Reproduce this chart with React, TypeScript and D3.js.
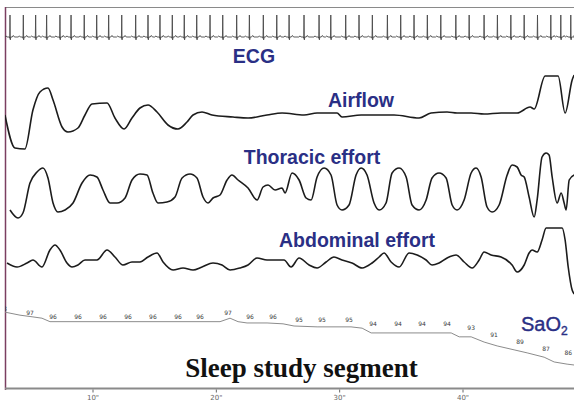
import React from "react";
import * as d3 from "d3";

const W = 574;
const H = 403;

// time axis ticks (seconds)
const timeTicks = [10, 20, 30, 40];

// ECG R-peak times (s)
const ecgBeats = [
  3.27, 4.35, 5.35, 6.24, 7.32, 8.22, 9.29, 10.3, 11.27, 12.33, 13.46, 14.46, 15.43, 16.43,
  17.4, 18.41, 19.49, 20.52, 21.65, 22.68, 23.81, 24.9, 25.9, 27.11, 28.33, 29.28, 30.49,
  31.57, 32.65, 33.87, 34.95, 36.03, 37.11, 38.2, 39.42, 40.5, 41.71, 42.79, 43.88, 44.96,
  46.04, 47.12, 47.93, 48.74,
];
// one PQRST complex: offset from R (s), amplitude (R = 1)
const ecgTemplate: [number, number][] = [
  [-0.42, 0], [-0.32, 0.05], [-0.24, 0], [-0.05, 0], [-0.025, -0.06], [0, 1],
  [0.025, -0.13], [0.06, 0], [0.18, 0], [0.27, 0.07], [0.36, 0],
];

// Airflow [t (s), amplitude]
const airflow: [number, number][] = [
  [2.86, 0], [3.67, -33], [4.48, -34], [5.13, 5], [5.7, 23], [6.35, 27], [6.76, 15],
  [7.49, -12], [7.97, -17], [8.78, -13], [9.35, 0], [9.92, 11], [11.14, 12], [11.78, -3],
  [12.52, -14], [13.16, -3], [13.81, 7], [14.46, 10], [15.19, 3], [16.08, -10], [16.89, -14],
  [17.62, -7], [18.11, 0], [18.84, 3], [19.65, 0], [21.35, -2], [22.57, -3], [24.11, 0],
  [25.33, 2], [27.11, 0], [28.17, 2], [29.79, 2], [30.19, -2], [31.74, 0], [33.03, 0],
  [34.41, 0], [36.44, -3], [37.41, 2], [38.71, 3], [39.52, 2], [40.66, 2], [41.71, 1],
  [43.09, 2], [44.39, 2], [45.44, 8], [45.77, 6], [46.66, 39], [47.71, 39], [48.28, 2],
  [48.85, 35], [49.01, 40],
];

// Thoracic effort [t (s), amplitude]
const thoracic: [number, number][] = [
  [3.27, -20], [3.92, -28], [4.32, -23], [4.89, 7], [5.46, 18], [5.94, 22], [6.35, 12],
  [6.76, -13], [7.16, -22], [7.73, -20], [8.38, -13], [9.11, 7], [9.76, 15], [10.32, 13],
  [10.81, 0], [11.38, -13], [11.95, -13], [12.6, -8], [13.16, 10], [13.81, 16], [14.38, 15],
  [14.86, -3], [15.27, -13], [16.0, -12], [16.65, -7], [17.22, 12], [17.87, 16], [18.43, 12],
  [18.92, -7], [19.33, -13], [19.73, -8], [20.3, -5], [20.87, 10], [21.27, 15], [21.76, 10],
  [22.57, 2], [23.3, -10], [23.79, 3], [24.19, 5], [24.76, 0], [25.33, 2], [25.57, -3],
  [26.14, 17], [26.71, 10], [27.28, -8], [27.68, -10], [28.17, 13], [28.74, 22], [29.3, 15],
  [29.79, -15], [30.19, -20], [30.76, -15], [31.33, 15], [31.74, 22], [32.22, 15],
  [32.79, -13], [33.2, -20], [33.76, -13], [34.25, 17], [34.82, 22], [35.39, 13],
  [35.87, -15], [36.44, -20], [37.01, -10], [37.49, 12], [38.06, 17], [38.63, 12],
  [39.12, -15], [39.52, -20], [40.09, -10], [40.66, 17], [41.06, 22], [41.47, 13],
  [41.95, -17], [42.36, -22], [42.93, -15], [43.58, 15], [43.98, 25], [44.39, 23],
  [44.71, 15], [44.96, 13], [45.36, -7], [45.77, -27], [46.01, -10], [46.41, 33],
  [46.74, 37], [46.98, 35], [47.23, 13], [47.63, -13], [47.96, -3], [48.2, -13],
  [48.36, -20], [48.61, 10], [49.01, 15],
];

// Abdominal effort [t (s), amplitude]
const abdominal: [number, number][] = [
  [3.03, -1], [3.84, -5], [4.65, -1], [5.13, 2], [5.86, -5], [6.51, 12], [6.92, 17],
  [7.32, 12], [7.89, -1], [8.3, -5], [8.78, -3], [9.35, 2], [10.32, 2], [11.14, 12],
  [11.78, 5], [12.43, -3], [13.16, 0], [13.81, 0], [14.46, 5], [15.19, 9], [15.68, 0],
  [16.49, -8], [17.3, -6], [18.11, -8], [18.84, -5], [19.73, -1], [20.46, -3], [21.11, -8],
  [21.92, -6], [22.57, -3], [23.3, 4], [24.11, 2], [24.92, 2], [25.49, 2], [26.06, -5],
  [26.71, 4], [27.52, -3], [28.17, -6], [28.9, 0], [29.54, 5], [30.19, 2], [31.0, -1],
  [31.82, -6], [32.63, -1], [33.2, 5], [33.6, 9], [34.17, 0], [34.82, -5], [35.63, 9],
  [36.28, 7], [37.01, 2], [37.49, -3], [38.06, -1], [38.71, 4], [39.44, 7], [40.09, 0],
  [40.74, -6], [41.31, 2], [41.71, 10], [42.28, 7], [43.09, 5], [43.98, -3], [44.39, -10],
  [44.96, -3], [45.36, 9], [45.6, 12], [46.01, 10], [46.41, 22], [46.74, 34], [48.04, 34],
  [48.28, 22], [48.53, -5], [48.85, -28], [49.01, -32],
];

// SaO2 trend [t (s), %]
const sao2Trend: [number, number][] = [
  [2.86, 98.2], [4.08, 97.5], [5.13, 97.1], [5.86, 96.8], [6.51, 96.0], [20.3, 96.0],
  [21.11, 96.8], [21.76, 96.0], [22.49, 95.7], [24.11, 95.7], [25.41, 95.5], [26.3, 95.0],
  [28.17, 94.8], [30.92, 94.8], [31.82, 94.5], [32.55, 93.4], [39.04, 93.4], [39.69, 92.5],
  [40.66, 92.5], [41.71, 91.3], [42.77, 90.4], [44.14, 89.5], [45.2, 88.8], [46.58, 87.8],
  [47.39, 86.7], [48.44, 86.2], [49.01, 86.0],
];

// SaO2 readings printed along the trend [t (s), %]
const sao2Readings: [number, number][] = [
  [2.7, 98], [4.89, 97], [6.76, 96], [8.78, 96], [10.81, 96], [12.84, 96], [14.86, 96],
  [16.89, 96], [18.68, 96], [20.95, 97], [22.73, 96], [24.6, 96], [26.71, 95], [28.57, 95],
  [30.76, 95], [32.71, 94], [34.74, 94], [36.68, 94], [38.71, 94], [40.66, 93], [42.52, 91],
  [44.63, 89], [46.74, 87], [48.53, 86],
];

const NAVY = "#2a2f85";

export default function App() {
  const x = d3.scaleLinear().domain([10, 40]).range([93, 463]);
  const yEcg = d3.scaleLinear().domain([0, 1]).range([37, 15]);
  const yAir = d3.scaleLinear().domain([-50, 50]).range([165, 65]);
  const yTho = d3.scaleLinear().domain([-50, 50]).range([240, 140]);
  const yAbd = d3.scaleLinear().domain([-50, 50]).range([312, 212]);
  const ySat = d3.scaleLinear().domain([86, 98]).range([365, 313]);
  const ySatLabel = d3.scaleLinear().domain([86, 97]).range([353, 313]);

  const t0 = x.invert(5);
  const t1 = x.invert(W);

  // ECG polyline from beat times + complex template
  const ecgPts: [number, number][] = [[t0, 0]];
  ecgBeats.forEach((b) => ecgTemplate.forEach(([dt, v]) => ecgPts.push([b + dt, v])));
  ecgPts.push([t1, 0]);
  ecgPts.sort((a, b) => a[0] - b[0]);

  const ecgLine = d3
    .line<[number, number]>()
    .x((d) => x(d[0]))
    .y((d) => yEcg(d[1]));

  const mk = (ys: d3.ScaleLinear<number, number>) =>
    d3
      .line<[number, number]>()
      .x((d) => x(d[0]))
      .y((d) => ys(d[1]))
      .curve(d3.curveMonotoneX);

  const traceStyle = {
    fill: "none",
    stroke: "#1c1c1c",
    strokeWidth: 1.6,
    strokeLinejoin: "round" as const,
  };

  const labelFont = "'Liberation Sans', Arial, sans-serif";

  return (
    <svg
      width={W}
      height={H}
      style={{ position: "absolute", left: 0, top: 0, background: "#fff" }}
    >
      <defs>
        <clipPath id="plot">
          <rect x={5} y={0} width={W - 5} height={H} />
        </clipPath>
      </defs>

      {/* frame */}
      <line x1={5} x2={W} y1={7.5} y2={7.5} stroke="#8a8a8a" strokeWidth={1.2} />
      <line x1={5.5} x2={5.5} y1={7} y2={390} stroke="#7b3f61" strokeWidth={1.5} />

      <g clipPath="url(#plot)">
        <path d={ecgLine(ecgPts) || ""} fill="none" stroke="#4a4a4a" strokeWidth={0.9} />
        <path d={mk(yAir)(airflow) || ""} style={traceStyle} />
        <path d={mk(yTho)(thoracic) || ""} style={traceStyle} />
        <path d={mk(yAbd)(abdominal) || ""} style={traceStyle} />
        <path
          d={d3.line<[number, number]>().x((d) => x(d[0])).y((d) => ySat(d[1]))(sao2Trend) || ""}
          fill="none"
          stroke="#8c8c8c"
          strokeWidth={1}
        />
        {sao2Readings.map(([t, v], i) => (
          <text
            key={i}
            x={x(t)}
            y={ySatLabel(v) + 2}
            textAnchor="middle"
            fontSize={6}
            fontFamily="'DejaVu Sans', sans-serif"
            fill="#3a3a3a"
          >
            {v}
          </text>
        ))}
      </g>

      {/* channel labels */}
      <g fontFamily={labelFont} fontWeight="bold" fontSize={19.5} fill={NAVY}>
        <text x={254} y={63} textAnchor="middle">ECG</text>
        <text x={361} y={107} textAnchor="middle">Airflow</text>
        <text x={312} y={164} textAnchor="middle">Thoracic effort</text>
        <text x={357} y={247} textAnchor="middle">Abdominal effort</text>
      </g>
      <text x={521} y={331} fontFamily={labelFont} fontSize={20} fill={NAVY} stroke={NAVY} strokeWidth={0.4}>
        SaO
        <tspan fontSize={12} dy={4}>2</tspan>
      </text>

      {/* title */}
      <text
        x={301.5}
        y={377}
        textAnchor="middle"
        fontFamily="'Liberation Serif', 'Times New Roman', serif"
        fontWeight="bold"
        fontSize={27}
        fill="#111"
      >
        Sleep study segment
      </text>

      {/* time axis */}
      <line x1={5} x2={W} y1={388.5} y2={388.5} stroke="#8a8a8a" strokeWidth={2} />
      {timeTicks.map((t) => (
        <g key={t} transform={`translate(${x(t)},0)`}>
          <line y1={389.5} y2={392.5} stroke="#666" strokeWidth={1} />
          <text
            y={400}
            textAnchor="middle"
            fontSize={7}
            fontFamily="'DejaVu Sans', sans-serif"
            fill="#666"
          >
            {`${t}"`}
          </text>
        </g>
      ))}
    </svg>
  );
}
